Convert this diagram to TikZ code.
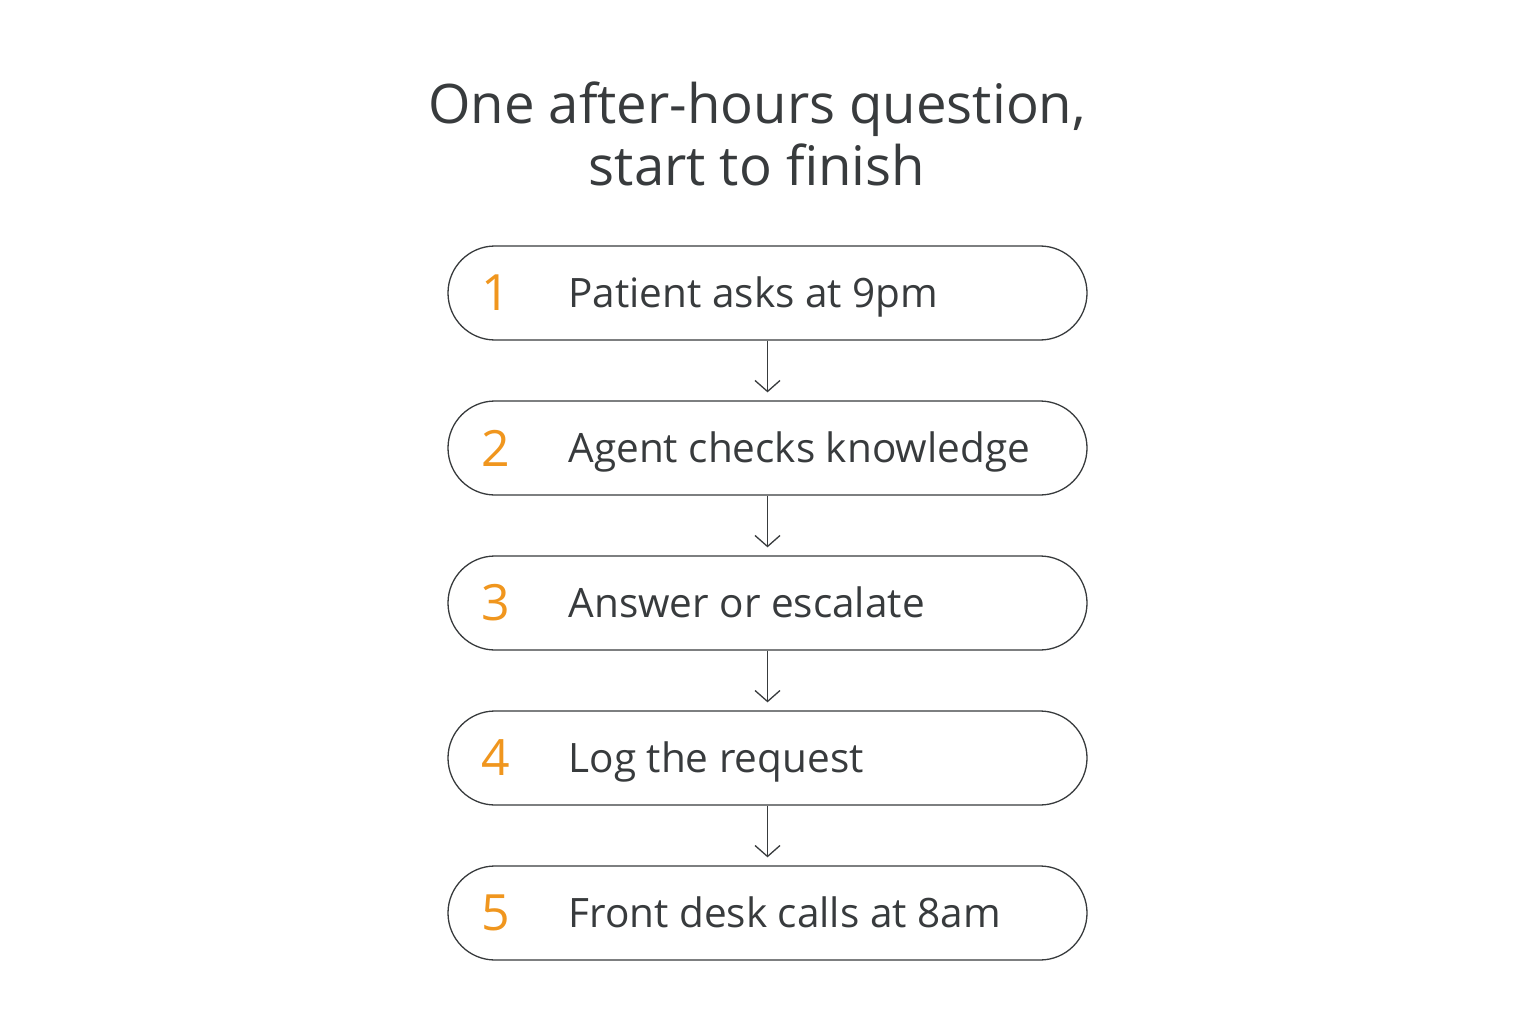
\documentclass[tikz,border=0pt]{standalone}
\usepackage{fontspec}
\setmainfont{Open Sans}
\usetikzlibrary{arrows.meta,positioning}
\definecolor{ink}{HTML}{383B3D}
\definecolor{accent}{HTML}{F0961E}
\tikzset{
  stepbox/.style={draw=ink, line width=1.3pt, rounded corners=47pt, minimum width=639pt, minimum height=94pt, inner sep=0pt},
  numlab/.style={text=accent, font=\fontsize{50}{60}\selectfont, anchor=center},
  steplab/.style={text=ink, font=\fontsize{40.5}{46}\selectfont, anchor=base west},
  flow/.style={draw=ink, line width=1.3pt, -{Straight Barb[length=11pt,width=25pt,line width=1.3pt]}},
}
\begin{document}
\begin{tikzpicture}[x=1pt,y=-1pt]
\useasboundingbox (0,0) rectangle (1536,1024);
\fill[white] (0,0) rectangle (1536,1024);
\node[text=ink, font=\fontsize{54.5}{62}\selectfont, align=center] (title) at (757,134) {One after-hours question,\\start to finish};
\foreach \i/\t/\yy in {1/Patient asks at 9pm/293, 2/Agent checks knowledge/448, 3/Answer or escalate/603, 4/Log the request/758, 5/Front desk calls at 8am/913}{
  \node[stepbox] (b\i) at (767.5,\yy) {};
  \node[numlab] (n\i) at (496,\yy) {\i};
  \node[steplab] (t\i) at (565,\yy+14) {\t};
}
\foreach \a/\b in {1/2,2/3,3/4,4/5}{
  \draw[flow] (b\a.south) -- ([yshift=8pt]b\b.north);
}
\end{tikzpicture}
\end{document}
